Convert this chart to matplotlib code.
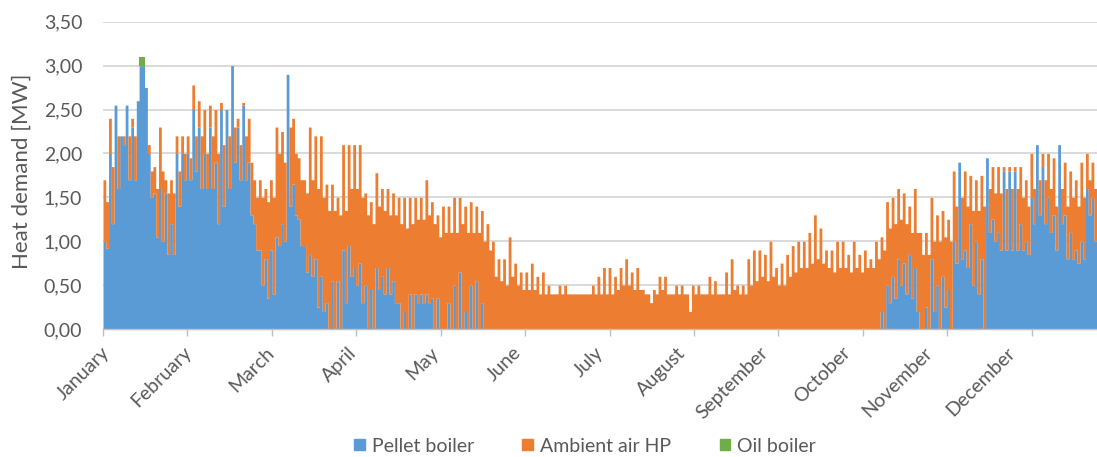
import numpy as np
import matplotlib
matplotlib.use("Agg")
import matplotlib.pyplot as plt
from matplotlib.patches import Patch
from matplotlib.ticker import FuncFormatter, FixedLocator

# Month labels along the time axis
months = ["January", "February", "March", "April", "May", "June", "July",
          "August", "September", "October", "November", "December"]

# Daily heat demand (MW): top of the stacked supply (pellet + heat pump)
total_mw = [
    1.7, 1.45, 2.4, 1.85, 2.55, 2.2, 2.2, 2.2, 2.55, 2.2,
    2.4, 2.2, 2.6, 3.0, 3.0, 2.75, 2.1, 1.8, 1.85, 1.6,
    2.3, 1.8, 1.7, 1.55, 1.7, 1.55, 2.2, 1.8, 2.2, 2.0,
    2.2, 1.95, 2.78, 2.2, 2.6, 2.2, 2.5, 2.0, 2.55, 2.2,
    2.5, 2.0, 2.58, 2.1, 2.5, 2.2, 3.0, 2.3, 2.4, 2.1,
    2.58, 2.2, 2.4, 1.9, 1.7, 1.5, 1.7, 1.5, 1.6, 1.45,
    1.7, 1.5, 2.3, 2.0, 2.25, 1.9, 2.9, 2.3, 2.4, 2.0,
    1.95, 1.7, 1.7, 1.55, 2.3, 1.7, 2.2, 1.6, 2.2, 1.5,
    1.65, 1.35, 1.65, 1.35, 1.5, 1.3, 2.1, 1.35, 2.1, 1.6,
    2.1, 1.6, 2.1, 1.5, 1.55, 1.3, 1.45, 1.2, 1.78, 1.4,
    1.6, 1.35, 1.6, 1.3, 1.55, 1.3, 1.5, 1.2, 1.5, 1.15,
    1.5, 1.2, 1.5, 1.25, 1.5, 1.25, 1.7, 1.3, 1.45, 1.2,
    1.3, 1.05, 1.4, 1.1, 1.4, 1.1, 1.5, 1.1, 1.5, 1.2,
    1.4, 1.1, 1.45, 1.1, 1.4, 1.1, 1.35, 1.0, 1.2, 0.9,
    1.0, 0.6, 0.8, 0.55, 0.8, 0.5, 1.05, 0.6, 0.75, 0.5,
    0.65, 0.45, 0.65, 0.45, 0.75, 0.45, 0.6, 0.4, 0.65, 0.4,
    0.5, 0.4, 0.4, 0.4, 0.5, 0.4, 0.5, 0.4, 0.4, 0.4,
    0.4, 0.4, 0.4, 0.4, 0.4, 0.4, 0.5, 0.4, 0.6, 0.4,
    0.7, 0.4, 0.7, 0.4, 0.6, 0.45, 0.7, 0.5, 0.8, 0.5,
    0.65, 0.45, 0.7, 0.45, 0.45, 0.4, 0.4, 0.3, 0.45, 0.4,
    0.6, 0.45, 0.6, 0.4, 0.4, 0.4, 0.5, 0.4, 0.5, 0.4,
    0.4, 0.2, 0.5, 0.4, 0.5, 0.4, 0.4, 0.4, 0.6, 0.4,
    0.55, 0.4, 0.4, 0.4, 0.65, 0.4, 0.8, 0.45, 0.5, 0.4,
    0.5, 0.4, 0.8, 0.5, 0.9, 0.55, 0.9, 0.6, 0.85, 0.55,
    1.0, 0.6, 0.7, 0.5, 0.75, 0.5, 0.85, 0.6, 0.95, 0.65,
    1.0, 0.7, 1.0, 0.7, 1.1, 0.75, 1.3, 0.8, 1.15, 0.75,
    0.9, 0.7, 0.9, 0.65, 1.0, 0.7, 1.0, 0.7, 0.85, 0.65,
    1.0, 0.7, 0.85, 0.65, 0.9, 0.7, 0.8, 0.7, 1.0, 0.8,
    1.05, 0.9, 1.45, 1.15, 1.5, 1.2, 1.6, 1.25, 1.55, 1.2,
    1.4, 1.1, 1.6, 1.1, 1.1, 0.85, 1.1, 0.85, 1.5, 1.0,
    1.3, 1.0, 1.35, 1.05, 1.25, 1.0, 1.8, 1.4, 1.9, 1.5,
    1.8, 1.4, 1.75, 1.35, 1.7, 1.35, 1.75, 1.4, 1.95, 1.6,
    1.85, 1.55, 1.85, 1.55, 1.85, 1.6, 1.85, 1.6, 1.85, 1.6,
    1.85, 1.5, 1.7, 1.4, 2.0, 1.6, 2.1, 1.7, 2.0, 1.7,
    2.0, 1.6, 1.95, 1.4, 2.1, 1.6, 1.9, 1.4, 1.8, 1.5,
    1.7, 1.4, 1.9, 1.5, 2.0, 1.7, 1.9, 1.6, 1.85, 1.5,
    1.9, 1.55, 1.8, 1.5, 1.85,
]

# Daily output of the pellet boiler (MW); it is off through the summer
pellet_winter = [
    1.0, 0.92, 2.0, 1.2, 2.55, 1.6, 2.2, 2.1, 2.55, 1.7,
    2.3, 1.7, 2.6, 3.0, 3.0, 2.75, 2.0, 1.5, 1.55, 1.05,
    1.6, 1.0, 1.55, 0.85, 1.2, 0.85, 2.0, 1.4, 2.0, 1.7,
    2.0, 1.7, 2.5, 1.8, 2.3, 1.6, 2.0, 1.6, 2.3, 1.6,
    1.9, 1.2, 2.5, 1.4, 2.5, 1.6, 3.0, 1.9, 2.3, 1.7,
    2.55, 1.7, 1.9, 1.3, 1.2, 0.9, 0.9, 0.5, 0.8, 0.35,
    0.9, 0.4, 1.05, 0.95, 1.2, 1.0, 2.9, 1.4, 1.65, 1.3,
    1.25, 0.95, 0.95, 0.65, 0.85, 0.6, 0.8, 0.25, 0.6, 0.2,
    0.3, 0.0, 0.55, 0.0, 0.55, 0.0, 0.9, 0.3, 0.95, 0.6,
    0.7, 0.5, 0.75, 0.3, 0.5, 0.0, 0.45, 0.0, 0.7, 0.45,
    0.6, 0.4, 0.7, 0.4, 0.55, 0.3, 0.3, 0.0, 0.2, 0.0,
    0.4, 0.0, 0.4, 0.3, 0.4, 0.3, 0.4, 0.3, 0.35, 0.0,
    0.35, 0.0, 0.0, 0.0, 0.3, 0.0, 0.5, 0.0, 0.65, 0.0,
    0.2, 0.0, 0.5, 0.0, 0.55, 0.0, 0.3, 0.0, 0.0, 0.0,
]
pellet_summer = [0.0] * 140
pellet_autumn = [
    0.2, 0.0, 0.5, 0.3, 0.6, 0.35, 0.8, 0.5, 0.75, 0.4,
    0.85, 0.35, 0.7, 0.2, 0.0, 0.0, 0.25, 0.0, 0.8, 0.2,
    0.5, 0.0, 0.6, 0.25, 0.45, 0.0, 1.0, 0.75, 1.9, 0.8,
    0.9, 0.7, 1.2, 0.5, 1.0, 0.4, 0.8, 0.0, 1.95, 1.1,
    1.25, 1.0, 1.1, 0.9, 1.8, 0.9, 1.8, 0.9, 1.8, 0.9,
    1.2, 0.9, 1.0, 0.85, 1.5, 1.2, 2.1, 1.3, 1.85, 1.2,
    1.5, 1.1, 1.3, 0.9, 2.1, 1.2, 1.3, 0.8, 1.1, 0.8,
    0.9, 0.75, 1.0, 0.8, 1.6, 1.3, 1.5, 1.0, 1.2, 0.9,
    1.3, 0.95, 1.2, 0.9, 1.2,
]

# Oil boiler peak-load support (day of year, MW on top of the stack)
oil_days = [13, 14]
oil_mw = [0.1, 0.1]

BLUE = "#5B9BD5"
ORANGE = "#ED7D31"
GREEN = "#70AD47"
TEXT = "#595959"
GRID = "#D9D9D9"
AXIS = "#BFBFBF"

plt.rcParams["font.family"] = ["Lato", "DejaVu Sans"]
plt.rcParams["font.size"] = 14

total = np.array(total_mw)
pellet = np.minimum(np.array(pellet_winter + pellet_summer + pellet_autumn), total)

days = np.arange(len(total) + 1)
tot_step = np.append(total, total[-1])
pel_step = np.append(pellet, pellet[-1])

W, H = 1097, 457
fig = plt.figure(figsize=(W / 100, H / 100), dpi=100)
x0, x1 = 103, 1116
y0, y1 = 329, 21.7
ax = fig.add_axes([x0 / W, 1 - y0 / H, (x1 - x0) / W, (y0 - y1) / H])
px_per_day = (x1 - x0) / 365

ax.fill_between(days, 0, pel_step, step="post", color=BLUE, lw=0, zorder=2)
ax.fill_between(days, pel_step, tot_step, step="post", color=ORANGE, lw=0, zorder=2)
for d, v in zip(oil_days, oil_mw):
    ax.fill_between([d, d + 1], total[d], total[d] + v, color=GREEN, lw=0, zorder=3)

ax.set_xlim(0, 365)
ax.set_ylim(0, 3.5)

# Y axis: comma decimal labels, gridlines only
ax.set_yticks(np.arange(0, 3.51, 0.5))
ax.yaxis.set_major_formatter(FuncFormatter(lambda v, _: f"{v:.2f}".replace(".", ",")))
ax.grid(axis="y", color=GRID, lw=1.4, zorder=0)
ax.set_axisbelow(True)
ax.tick_params(axis="y", length=0, pad=15, labelcolor=TEXT, labelsize=14)

# X axis: tick marks at evenly spaced month boundaries (minor), month names
# on slightly tighter spacing (major, no marks)
month_marks = np.arange(12) * 365 / 12
ax.xaxis.set_minor_locator(FixedLocator(month_marks))
ax.tick_params(axis="x", which="minor", length=5, width=1, color=AXIS)
label_pos = (3.7 + 82.3 * np.arange(12)) / px_per_day
ax.set_xticks(label_pos)
ax.set_xticklabels(months, rotation=45, ha="right", va="center",
                   rotation_mode="anchor")
ax.tick_params(axis="x", which="major", length=0, pad=15,
               labelcolor=TEXT, labelsize=14)

for side in ("left", "right", "top"):
    ax.spines[side].set_visible(False)
ax.spines["bottom"].set_color(AXIS)
ax.spines["bottom"].set_linewidth(1)
ax.spines["bottom"].set_zorder(4)

ax.set_ylabel("Heat demand [MW]", color=TEXT, fontsize=16)
ax.yaxis.label.set_va("center")
ax.yaxis.set_label_coords((22 - x0) / (x1 - x0), (y0 - 171) / (y0 - y1))

handles = [Patch(color=BLUE, label="Pellet boiler"),
           Patch(color=ORANGE, label="Ambient air HP"),
           Patch(color=GREEN, label="Oil boiler")]
fig.legend(handles=handles, loc="center", bbox_to_anchor=(585 / W, 1 - 446 / H),
           ncol=3, frameon=False, handlelength=0.55, handleheight=0.55,
           handletextpad=0.35, columnspacing=2.5, labelcolor=TEXT, fontsize=14)

fig.savefig("out.png", dpi=100)
